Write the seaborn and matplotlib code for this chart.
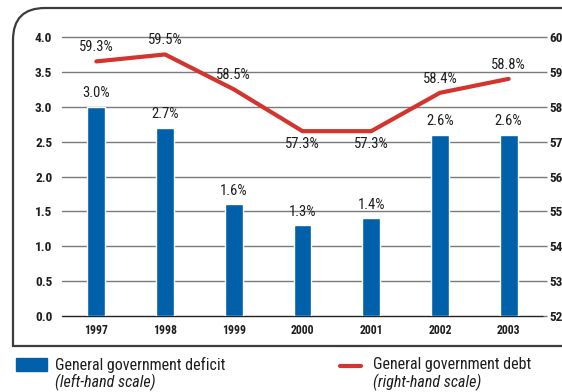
import matplotlib
matplotlib.use("Agg")
import matplotlib.pyplot as plt
from matplotlib.path import Path
from matplotlib.patches import PathPatch, Rectangle
from matplotlib.lines import Line2D
import seaborn as sns
import pandas as pd

years = ["1997", "1998", "1999", "2000", "2001", "2002", "2003"]
deficit = [3.0, 2.7, 1.6, 1.3, 1.4, 2.6, 2.6]
debt = [59.3, 59.5, 58.5, 57.3, 57.3, 58.4, 58.8]
debt_label_below = [False, False, False, True, True, False, False]
left_ticks = [0.0, 0.5, 1.0, 1.5, 2.0, 2.5, 3.0, 3.5, 4.0]
right_ticks = [52, 53, 54, 55, 56, 57, 58, 59, 60]

BLUE = "#0060a9"
RED = "#d3342e"
GRID = "#7a7a7a"
INK = "#1e1e1e"
FONT = ["Roboto Condensed", "DejaVu Sans"]

sns.set_theme(style="white")
plt.rcParams["font.family"] = FONT

df = pd.DataFrame({"year": years, "deficit": deficit, "debt": debt})

W, H = 562, 392
fig = plt.figure(figsize=(W / 100, H / 100), dpi=100)
ax = fig.add_axes([62 / W, 1 - 316 / H, (543 - 62) / W, (316 - 37) / H])

sns.barplot(data=df, x="year", y="deficit", ax=ax, color=BLUE, width=0.26,
            saturation=1, zorder=3)
ax.set_ylim(0, 4)
ax.set_xlim(-0.5, 6.5)
ax.set_yticks(left_ticks)
ax.set_yticklabels([f"{v:.1f}" for v in left_ticks], fontweight="bold",
                   fontsize=9.5, color=INK)
ax.set_xticks(range(len(years)))
ax.set_xticklabels(years, fontweight="bold", fontsize=8.5, color=INK)
ax.set_xlabel("")
ax.set_ylabel("")
for y in left_ticks:
    ax.axhline(y, color=GRID if y > 0 else "#222222", lw=1, zorder=1,
               clip_on=False)
for s in ax.spines.values():
    s.set_visible(False)
ax.tick_params(axis="y", length=0, pad=7)
ax.tick_params(axis="x", length=0, pad=6)

for i, v in enumerate(deficit):
    ax.text(i, v + 0.09, f"{v:.1f}%", ha="center", va="bottom",
            fontsize=10.5, color=INK)

ax2 = ax.twinx()
sns.lineplot(data=df, x="year", y="debt", ax=ax2, color=RED, lw=3,
             sort=False, zorder=4)
ax2.set_ylim(52, 60)
ax2.set_xlim(-0.5, 6.5)
ax2.set_yticks(right_ticks)
ax2.set_yticklabels([str(v) for v in right_ticks], fontweight="bold",
                    fontsize=9.5, color=INK)
ax2.set_ylabel("")
for s in ax2.spines.values():
    s.set_visible(False)
ax2.tick_params(axis="y", length=3, width=1, color=GRID, pad=1.5)

for i, (v, below) in enumerate(zip(debt, debt_label_below)):
    if below:
        ax2.text(i, v - 0.17, f"{v:.1f}%", ha="center", va="top",
                 fontsize=10.5, color=INK)
    else:
        ax2.text(i, v + 0.2, f"{v:.1f}%", ha="center", va="bottom",
                 fontsize=10.5, color=INK)

# rounded frame around the chart
def fx(px):
    return px / W

def fy(py):
    return 1 - py / H

r = 32
verts = [(fx(W), fy(8)), (fx(13 + r), fy(8)), (fx(13), fy(8)),
         (fx(13), fy(8 + r)), (fx(13), fy(346)), (fx(W), fy(346))]
codes = [Path.MOVETO, Path.LINETO, Path.CURVE3, Path.CURVE3,
         Path.LINETO, Path.LINETO]
fig.patches.append(PathPatch(Path(verts, codes), transform=fig.transFigure,
                             fill=False, edgecolor="#3c3c3c", lw=1.6))

# legend
fig.patches.append(Rectangle((fx(16), fy(371)), fx(47) - fx(16),
                             fy(358) - fy(371), transform=fig.transFigure,
                             color=BLUE))
fig.text(fx(55), fy(365), "General government deficit", fontsize=11.5,
         va="center", ha="left", color=INK)
fig.text(fx(55), fy(382), "(left-hand scale)", fontsize=11.5,
         style="italic", va="center", ha="left", color=INK)
fig.lines.append(Line2D([fx(340), fx(361)], [fy(366), fy(366)],
                        transform=fig.transFigure, color=RED, lw=3))
fig.text(fx(373), fy(365), "General government debt", fontsize=11.5,
         va="center", ha="left", color=INK)
fig.text(fx(373), fy(382), "(right-hand scale)", fontsize=11.5,
         style="italic", va="center", ha="left", color=INK)

fig.savefig("out.png", dpi=100)
